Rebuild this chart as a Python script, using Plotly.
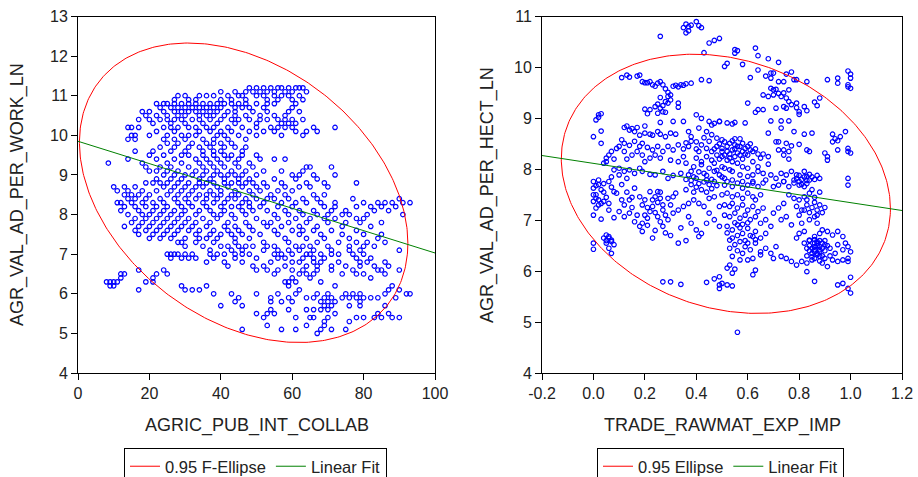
import numpy as np
import plotly.graph_objects as go

# ---------------- Left panel data (AGRIC_PUB_INT_COLLAB vs AGR_VAL_AD_PER_WORK_LN) ----------------
left_y_levels = [11.2, 11.1, 11.0, 10.9, 10.8, 10.7, 10.6, 10.5, 10.4, 10.3, 10.2, 10.1, 10.0,
                 9.9, 9.8, 9.7, 9.6, 9.5, 9.4, 9.3, 9.2, 9.1, 9.0, 8.9, 8.8, 8.7, 8.6, 8.5,
                 8.4, 8.3, 8.2, 8.1, 8.0, 7.9, 7.8, 7.7, 7.6, 7.5, 7.4, 7.3, 7.2, 7.1, 7.0,
                 6.9, 6.8, 6.7, 6.6, 6.5, 6.4, 6.3, 6.2, 6.1, 6.0, 5.9, 5.8, 5.7, 5.6, 5.5,
                 5.4, 5.3, 5.2, 5.1, 5.0]
left_x_rows = [
    [48, 50, 52, 54, 56, 57, 59, 61, 62, 63],
    [40, 44, 47, 49, 51, 53, 55, 58, 60, 64],
    [28, 30, 34, 36, 38, 42, 45, 46, 50, 52, 55, 57, 59, 62],
    [27, 31, 33, 40, 43, 47, 53, 56, 60, 63],
    [22, 24, 25, 27, 29, 31, 33, 35, 37, 39, 41, 43, 45, 47, 50, 53, 55, 61],
    [23, 26, 28, 30, 32, 34, 36, 38, 40, 44, 46, 48, 52, 60],
    [18, 20, 24, 27, 29, 31, 33, 35, 37, 39, 42, 44, 49, 53, 59, 62],
    [19, 22, 25, 28, 30, 34, 36, 38, 41, 44, 47, 51, 55, 58],
    [17, 20, 23, 25, 27, 29, 32, 34, 37, 40, 43, 45, 48, 51, 53, 56, 58, 60, 63],
    [21, 26, 30, 35, 39, 44, 50, 57, 59, 61],
    [14, 15, 17, 24, 26, 28, 31, 33, 36, 38, 42, 46, 50, 54, 56, 58, 60, 66, 72],
    [22, 27, 34, 37, 40, 43, 48, 52, 55, 61, 64, 67],
    [15, 16, 20, 25, 29, 31, 33, 39, 41, 45, 50, 57, 63],
    [14, 16, 24, 27, 30, 35, 38, 42, 47],
    [25, 28, 32, 36, 38, 40, 43],
    [23, 27, 31, 34, 37, 41, 44, 47],
    [16, 21, 26, 30, 35, 38, 40, 46],
    [20, 24, 29, 31, 35, 38, 41, 43, 46, 50],
    [14, 22, 27, 33, 36, 39, 42, 45, 51, 55, 58],
    [8.5, 18, 25, 29, 34, 37, 40, 44, 48],
    [19, 23, 26, 31, 35, 38, 41, 45, 49, 64, 65, 71],
    [20, 22, 25, 28, 33, 36, 39, 43, 47, 52, 57, 63],
    [24, 27, 30, 32, 35, 38, 40, 42, 44, 46, 50, 60, 62, 66, 72],
    [22, 26, 29, 34, 37, 41, 45, 48, 55, 61, 67],
    [19, 21, 23, 25, 28, 31, 34, 36, 38, 41, 43, 45, 47, 49, 52, 57, 64, 69, 78],
    [10, 13, 16, 24, 27, 30, 33, 35, 39, 42, 46, 50, 53, 58, 62, 65, 70],
    [11, 14, 18, 22, 26, 29, 32, 37, 40, 44, 48, 51, 56, 60],
    [13, 15, 17, 20, 25, 28, 31, 34, 36, 38, 40, 43, 45, 49, 54, 58, 66, 69],
    [14, 16, 19, 23, 27, 30, 33, 36, 39, 42, 44, 47, 50, 53, 55, 59, 63, 67, 77, 90],
    [11, 12, 15, 18, 21, 24, 28, 31, 35, 38, 41, 46, 48, 52, 57, 61, 64, 68, 72, 80, 84, 86, 88, 91, 93],
    [13, 16, 19, 22, 25, 29, 32, 36, 40, 43, 45, 48, 51, 56, 60, 69, 72, 78, 82, 85, 89],
    [12, 17, 21, 24, 27, 30, 34, 37, 41, 46, 49, 53, 58, 62, 66, 71, 75, 83, 87],
    [14, 18, 20, 23, 26, 29, 33, 38, 40, 43, 47, 55, 59, 63, 67, 70, 74, 76, 81, 91],
    [16, 19, 22, 25, 28, 31, 35, 39, 44, 50, 56, 61, 65, 69, 72, 78, 80],
    [15, 18, 21, 24, 27, 30, 33, 37, 42, 47, 52, 54, 59, 64, 70, 75, 79, 85],
    [13, 17, 20, 23, 26, 29, 32, 36, 41, 44, 48, 53, 57, 62, 67, 74, 82],
    [16, 19, 22, 25, 28, 31, 34, 38, 42, 45, 49, 55, 60, 63, 66, 71, 78],
    [17, 21, 24, 27, 33, 37, 40, 43, 46, 51, 56, 62, 68, 74, 80, 85],
    [20, 23, 26, 30, 34, 36, 39, 44, 48, 58, 64, 69, 76, 84],
    [28, 29, 33, 38, 44, 52, 59, 67, 73, 78, 81, 86],
    [30, 35, 40, 42, 45, 47, 49, 53, 55, 61, 63, 65, 70, 76, 80, 83],
    [37, 43, 46, 52, 56, 59, 62, 66, 71, 76, 79, 90],
    [25, 26, 27, 28, 30, 32, 37, 39, 41, 44, 46, 48, 55, 57, 60, 64, 65, 68, 71, 73, 77, 80],
    [26, 29, 31, 33, 38, 44, 50, 56, 58, 63, 66, 69, 78, 82],
    [36, 41, 46, 54, 60, 62, 66, 68, 73, 79, 81, 86],
    [42, 49, 52, 58, 64, 67, 71, 75, 79, 83, 87],
    [17, 24, 50, 53, 56, 60, 63, 67, 71, 77, 84, 85, 90],
    [12, 13, 22, 25, 55, 62, 64, 66, 74, 78, 80, 86],
    [12, 21, 60, 65, 82],
    [8, 9, 10, 11, 19, 21, 58, 59, 61, 68],
    [9, 10, 29, 36, 59, 72, 88],
    [17, 30, 32, 34, 62, 87, 90],
    [38, 43, 50, 56, 61, 67, 70, 75, 77, 79, 86, 92, 93],
    [45, 54, 59, 64, 66, 69, 71, 74, 76, 78, 80, 82, 84, 89],
    [44, 54, 57, 60, 68, 70, 72, 79],
    [40, 46, 69, 71, 76, 79, 86],
    [54, 59, 64, 66, 68, 70],
    [50, 53, 55, 72, 84, 87],
    [52, 61, 65, 66, 70, 78, 80, 83, 85, 88, 90],
    [69, 76],
    [53, 64, 69],
    [46, 57, 61, 68, 71, 75],
    [67],
]

# Left summary statistics (95% F-ellipse and linear fit)
left_center = (46.4, 8.55)
left_scaled_cov = [[2116.0, -58.6], [-58.6, 14.29]]
left_fit_intercept = 9.85
left_fit_slope = -0.0282

# ---------------- Right panel data (TRADE_RAWMAT_EXP_IMP vs AGR_VAL_AD_PER_HECT_LN) ----------------
right_top = [(0.35, 10.78), (0.36, 10.85), (0.37, 10.72), (0.37, 10.80), (0.38, 10.83), (0.40, 10.90),
             (0.41, 10.82), (0.42, 10.78), (0.36, 10.68), (0.26, 10.61), (0.43, 10.29), (0.45, 10.48),
             (0.47, 10.53), (0.49, 10.57), (0.55, 10.35), (0.55, 10.28), (0.56, 10.33), (0.52, 10.08),
             (0.51, 10.02), (0.58, 10.06), (0.63, 10.38), (0.64, 10.23), (0.68, 10.17), (0.72, 10.10)]
right_band_97 = [(0.11, 9.80), (0.13, 9.85), (0.14, 9.81), (0.17, 9.83), (0.18, 9.85), (0.19, 9.72),
                 (0.20, 9.70), (0.22, 9.72), (0.23, 9.66), (0.25, 9.69), (0.26, 9.72), (0.24, 9.63),
                 (0.27, 9.66), (0.28, 9.58), (0.29, 9.51), (0.29, 9.43), (0.30, 9.46), (0.31, 9.63),
                 (0.32, 9.65), (0.34, 9.66), (0.35, 9.65), (0.36, 9.68), (0.38, 9.69), (0.42, 9.76),
                 (0.45, 9.74), (0.21, 9.70), (0.33, 9.62)]
right_band_92 = [(0.26, 9.41), (0.25, 9.28), (0.24, 9.23), (0.26, 9.20), (0.27, 9.25), (0.28, 9.33),
                 (0.29, 9.30), (0.30, 9.36), (0.33, 9.30), (0.33, 9.22), (0.25, 9.10), (0.27, 9.13),
                 (0.20, 9.18), (0.22, 9.17), (0.21, 9.09), (0.28, 9.12), (0.02, 9.07), (0.03, 9.09),
                 (0.01, 8.97), (0.02, 9.02), (0.00, 8.64), (0.03, 8.75), (0.03, 8.51)]
right_band_87 = [(0.12, 8.82), (0.14, 8.77), (0.16, 8.74), (0.18, 8.67), (0.20, 8.71), (0.22, 8.69),
                 (0.23, 8.67), (0.25, 8.74), (0.26, 8.69), (0.28, 8.64), (0.30, 8.71), (0.32, 8.69),
                 (0.20, 8.85), (0.31, 8.94), (0.26, 8.92), (0.35, 8.94), (0.13, 8.85), (0.15, 8.80),
                 (0.17, 8.82)]
right_band_83 = [(0.11, 8.58), (0.12, 8.51), (0.14, 8.47), (0.16, 8.55), (0.18, 8.45), (0.19, 8.51),
                 (0.21, 8.43), (0.23, 8.38), (0.25, 8.45), (0.27, 8.35), (0.29, 8.45), (0.31, 8.38),
                 (0.33, 8.48), (0.35, 8.40), (0.36, 8.52), (0.37, 8.45), (0.38, 8.55), (0.40, 8.40),
                 (0.12, 8.35), (0.15, 8.28), (0.17, 8.35), (0.19, 8.28), (0.22, 8.22), (0.24, 8.28),
                 (0.26, 8.22), (0.30, 8.18), (0.33, 8.15), (0.35, 8.25), (0.05, 8.22), (0.05, 8.15),
                 (0.06, 8.28), (0.07, 8.35), (0.09, 8.41), (0.10, 8.45), (0.04, 8.12), (0.08, 8.20),
                 (0.13, 8.20), (0.20, 8.15)]
right_band_79 = [(0.08, 7.99), (0.10, 8.02), (0.12, 7.96), (0.14, 7.99), (0.16, 7.92), (0.19, 7.96),
                 (0.22, 7.90), (0.24, 7.89), (0.27, 7.96), (0.29, 7.82), (0.10, 7.89), (0.13, 7.82),
                 (0.00, 7.76), (0.02, 7.79), (0.06, 7.76), (0.18, 8.02), (0.31, 7.88), (0.34, 7.92),
                 (0.04, 7.72), (0.07, 7.85)]
right_mid_a = [(0.40, 9.07), (0.42, 9.00), (0.45, 8.94), (0.46, 8.87), (0.47, 8.90), (0.49, 8.94),
               (0.41, 8.81), (0.44, 8.74), (0.46, 8.68), (0.48, 8.61), (0.37, 8.74), (0.38, 8.64),
               (0.40, 8.54), (0.42, 8.48), (0.44, 8.41), (0.46, 8.35), (0.48, 8.28), (0.41, 8.35),
               (0.44, 8.25), (0.46, 8.18), (0.47, 8.12), (0.40, 8.22), (0.42, 8.09), (0.45, 8.02),
               (0.47, 7.96), (0.49, 7.89), (0.38, 7.96), (0.37, 7.89), (0.40, 7.82), (0.44, 7.79),
               (0.47, 7.76), (0.50, 7.85), (0.43, 7.92), (0.39, 8.05), (0.36, 8.12), (0.48, 8.45),
               (0.45, 8.55), (0.43, 8.62), (0.49, 8.20), (0.50, 8.05), (0.41, 7.72), (0.45, 7.70),
               (0.36, 7.80), (0.42, 8.15), (0.36, 7.60), (0.38, 7.70), (0.39, 7.55), (0.40, 7.65),
               (0.42, 7.60), (0.43, 7.75), (0.44, 7.55), (0.46, 7.62), (0.48, 7.68), (0.39, 7.85),
               (0.41, 7.95), (0.44, 7.88), (0.46, 7.80), (0.48, 7.98), (0.38, 7.78)]
right_mid_b = [(0.50, 8.58), (0.51, 8.54), (0.53, 8.51), (0.54, 8.56), (0.55, 8.48), (0.56, 8.45),
               (0.58, 8.51), (0.59, 8.41), (0.60, 8.45), (0.50, 8.41), (0.52, 8.35), (0.54, 8.38),
               (0.56, 8.32), (0.57, 8.28), (0.58, 8.35), (0.61, 8.38), (0.62, 8.35), (0.50, 8.25),
               (0.53, 8.22), (0.54, 8.15), (0.56, 8.12), (0.58, 8.05), (0.60, 8.02), (0.62, 8.15),
               (0.64, 8.05), (0.65, 8.22), (0.51, 8.02), (0.53, 7.99), (0.54, 7.96), (0.57, 7.89),
               (0.60, 7.86), (0.62, 7.89), (0.64, 7.96), (0.66, 7.92), (0.69, 7.89), (0.71, 7.82),
               (0.73, 7.92), (0.75, 7.89), (0.77, 7.96), (0.79, 7.89), (0.82, 7.96), (0.83, 7.86),
               (0.84, 7.79), (0.51, 7.82), (0.54, 7.79), (0.58, 7.76), (0.62, 7.73), (0.67, 7.79),
               (0.74, 7.76), (0.78, 7.79), (0.80, 7.76), (0.55, 8.60), (0.57, 8.60), (0.52, 8.18),
               (0.47, 8.40), (0.49, 8.50), (0.50, 8.35), (0.52, 8.45), (0.53, 8.30), (0.55, 8.40),
               (0.57, 8.45), (0.59, 8.30), (0.51, 8.28), (0.55, 8.25), (0.58, 8.20), (0.60, 8.28),
               (0.63, 8.40), (0.64, 8.30), (0.61, 8.50)]
right_upper_right = [(0.49, 8.94), (0.52, 8.91), (0.54, 8.89), (0.55, 8.92), (0.59, 8.91), (0.69, 8.95),
                     (0.73, 8.95), (0.76, 8.95), (0.73, 8.81), (0.78, 8.74), (0.82, 8.69), (0.85, 8.71),
                     (0.68, 8.71), (0.93, 8.69), (0.94, 8.60), (0.98, 8.74), (0.95, 8.56), (0.93, 8.54),
                     (0.96, 8.64), (0.99, 8.41), (0.99, 8.35), (1.00, 8.32), (0.95, 8.38), (0.90, 8.32),
                     (0.91, 8.25), (0.91, 8.18), (0.83, 8.38), (0.84, 8.35), (0.80, 8.49), (0.77, 8.46),
                     (0.75, 8.51), (0.72, 8.54), (0.71, 8.54), (0.72, 8.38), (0.74, 8.38), (0.76, 8.35),
                     (0.74, 8.28), (0.76, 8.20), (0.66, 8.30), (0.68, 8.25), (0.68, 8.10), (0.99, 7.82),
                     (0.99, 7.69)]
right_high_right = [(0.61, 9.80), (0.64, 9.95), (0.67, 9.83), (0.69, 9.89), (0.70, 9.89), (0.69, 9.79),
                    (0.72, 9.72), (0.74, 9.72), (0.75, 9.87), (0.77, 9.91), (0.78, 9.76), (0.79, 9.76),
                    (0.83, 9.72), (0.91, 9.76), (0.95, 9.79), (0.95, 9.69), (0.99, 9.93), (1.00, 9.87),
                    (1.00, 9.79), (0.99, 9.66), (1.00, 9.59), (0.99, 9.62), (0.69, 9.59), (0.70, 9.56),
                    (0.71, 9.57), (0.72, 9.49), (0.70, 9.46), (0.68, 9.43), (0.66, 9.46), (0.73, 9.43),
                    (0.75, 9.40), (0.76, 9.33), (0.77, 9.27), (0.75, 9.20), (0.74, 9.23), (0.71, 9.20),
                    (0.64, 9.17), (0.63, 9.12), (0.66, 9.17), (0.79, 9.30), (0.80, 9.13), (0.80, 9.08),
                    (0.82, 9.23), (0.83, 9.15), (0.86, 9.32), (0.87, 9.25), (0.88, 9.40), (0.60, 9.30),
                    (0.79, 9.21), (0.76, 9.56), (0.74, 9.50)]
right_low_left = [(0.00, 7.63), (0.01, 7.50), (0.01, 7.43), (0.00, 7.37), (0.01, 7.24), (0.03, 7.33),
                  (0.04, 7.37), (0.06, 7.33), (0.08, 7.56), (0.09, 7.53), (0.11, 7.40), (0.12, 7.30),
                  (0.14, 7.40), (0.16, 7.63), (0.18, 7.46), (0.19, 7.30), (0.20, 7.40), (0.10, 7.17),
                  (0.12, 7.07), (0.14, 7.14), (0.16, 6.97), (0.18, 6.88), (0.19, 6.94), (0.21, 7.04),
                  (0.03, 7.02), (0.00, 7.10), (0.05, 7.45), (0.07, 7.65), (0.02, 7.70), (0.13, 7.55),
                  (0.15, 7.25), (0.17, 7.10), (0.06, 7.20), (0.04, 7.55), (0.11, 7.70), (0.08, 7.05),
                  (0.00, 7.50), (0.01, 7.68), (0.02, 7.40), (0.03, 7.60), (0.02, 7.30), (0.15, 7.45)]
right_low_mid = [(0.22, 7.17), (0.24, 7.46), (0.25, 7.56), (0.26, 7.43), (0.27, 7.30), (0.29, 7.43),
                 (0.31, 7.46), (0.32, 7.53), (0.22, 7.56), (0.23, 7.27), (0.25, 7.07), (0.26, 6.97),
                 (0.27, 6.88), (0.29, 7.01), (0.31, 7.14), (0.33, 7.20), (0.35, 7.27), (0.37, 7.33),
                 (0.39, 7.40), (0.41, 7.33), (0.43, 7.27), (0.45, 7.14), (0.47, 7.01), (0.49, 6.88),
                 (0.37, 7.07), (0.38, 6.94), (0.40, 6.81), (0.41, 6.68), (0.42, 6.74), (0.44, 6.94),
                 (0.45, 7.43), (0.47, 7.46), (0.49, 7.27), (0.24, 6.80), (0.28, 6.75), (0.30, 6.70),
                 (0.34, 6.85), (0.36, 6.60), (0.33, 6.55), (0.21, 6.90), (0.19, 6.78), (0.23, 6.65),
                 (0.21, 7.25), (0.23, 7.40), (0.25, 7.35), (0.27, 7.20), (0.28, 7.10), (0.30, 7.30),
                 (0.24, 7.15), (0.26, 7.55), (0.20, 7.10)]
right_small_cluster = [(0.05, 6.71), (0.06, 6.65), (0.07, 6.58), (0.07, 6.61), (0.05, 6.55), (0.08, 6.52),
                       (0.06, 6.45), (0.04, 6.65), (0.07, 6.35), (0.00, 6.55), (0.00, 6.43), (0.06, 6.68),
                       (0.05, 6.60)]
right_outliers = [(0.27, 5.79), (0.30, 5.79), (0.34, 5.74), (0.44, 5.78), (0.47, 5.85), (0.49, 5.89),
                  (0.49, 5.73), (0.49, 5.66), (0.56, 4.80)]
right_low_centre = [(0.51, 7.69), (0.52, 7.76), (0.54, 7.66), (0.56, 7.73), (0.58, 7.63), (0.60, 7.69),
                    (0.62, 7.76), (0.64, 7.66), (0.66, 7.73), (0.50, 7.50), (0.52, 7.53), (0.54, 7.46),
                    (0.56, 7.50), (0.58, 7.43), (0.60, 7.53), (0.62, 7.46), (0.63, 7.40), (0.65, 7.50),
                    (0.51, 7.30), (0.53, 7.27), (0.54, 7.33), (0.56, 7.24), (0.58, 7.30), (0.60, 7.20),
                    (0.62, 7.27), (0.64, 7.17), (0.66, 7.24), (0.51, 7.10), (0.53, 7.07), (0.55, 7.14),
                    (0.57, 7.04), (0.59, 7.10), (0.61, 7.01), (0.63, 7.07), (0.65, 6.94), (0.67, 7.01),
                    (0.52, 6.88), (0.54, 6.81), (0.56, 6.91), (0.58, 6.74), (0.60, 6.84), (0.62, 6.68),
                    (0.63, 6.78), (0.65, 6.65), (0.67, 6.74), (0.69, 6.88), (0.53, 6.61), (0.55, 6.52),
                    (0.57, 6.58), (0.59, 6.48), (0.61, 6.42), (0.63, 6.55), (0.65, 6.38), (0.67, 6.45),
                    (0.54, 6.29), (0.57, 6.22), (0.60, 6.22), (0.62, 6.25), (0.65, 6.32), (0.53, 6.12),
                    (0.55, 6.04), (0.52, 6.06), (0.54, 5.96), (0.50, 5.76), (0.52, 5.73), (0.54, 5.71),
                    (0.62, 5.93), (0.63, 6.02), (0.52, 6.75), (0.54, 6.65), (0.56, 6.70), (0.57, 6.85),
                    (0.59, 6.60), (0.60, 6.95), (0.61, 6.70), (0.63, 6.62), (0.55, 6.95), (0.58, 6.92),
                    (0.53, 6.45), (0.56, 6.40), (0.58, 6.35), (0.60, 6.55)]
right_low_right = [(0.70, 7.66), (0.72, 7.69), (0.74, 7.76), (0.76, 7.66), (0.78, 7.73), (0.80, 7.69),
                   (0.82, 7.66), (0.76, 7.50), (0.78, 7.43), (0.80, 7.40), (0.82, 7.46), (0.84, 7.53),
                   (0.79, 7.27), (0.81, 7.20), (0.83, 7.30), (0.74, 7.33), (0.72, 7.24), (0.70, 7.14),
                   (0.73, 7.01), (0.75, 7.07), (0.77, 6.91), (0.81, 6.94), (0.84, 7.01), (0.86, 7.07),
                   (0.87, 6.94), (0.80, 6.74), (0.82, 6.78), (0.79, 6.65), (0.82, 6.55), (0.84, 6.61),
                   (0.86, 6.68), (0.88, 6.74), (0.89, 6.81), (0.91, 6.78), (0.93, 6.71), (0.95, 6.78),
                   (0.97, 6.68), (0.98, 6.55), (0.99, 6.48), (1.00, 6.38), (0.99, 6.25), (0.97, 6.22),
                   (0.95, 6.19), (0.94, 6.35), (0.92, 6.45), (0.90, 6.52), (0.88, 6.42), (0.87, 6.32),
                   (0.85, 6.22), (0.83, 6.16), (0.81, 6.19), (0.79, 6.12), (0.77, 6.19), (0.75, 6.25),
                   (0.73, 6.29), (0.70, 6.25), (0.69, 6.35), (0.71, 6.48), (0.86, 6.48), (0.87, 6.55),
                   (0.89, 6.16), (0.91, 6.09), (0.93, 6.22), (0.95, 6.52), (0.97, 6.42), (0.88, 6.29),
                   (0.86, 6.38), (0.83, 5.99), (0.86, 5.80), (0.95, 5.73), (0.97, 5.76), (0.99, 5.66),
                   (1.00, 5.57), (1.00, 5.88), (0.99, 6.19), (0.85, 6.45), (0.86, 6.55), (0.87, 6.50),
                   (0.88, 6.60), (0.89, 6.45), (0.87, 6.35), (0.86, 6.62), (0.88, 6.38), (0.84, 6.40),
                   (0.90, 6.60), (0.89, 6.30), (0.85, 6.28), (0.85, 7.25), (0.86, 7.35), (0.87, 7.20),
                   (0.88, 7.30), (0.89, 7.15), (0.84, 7.15), (0.86, 7.45), (0.83, 7.40), (0.88, 7.55),
                   (0.90, 7.25), (0.87, 7.10), (0.85, 7.60), (0.82, 7.20), (0.80, 7.10),
                   (0.83, 6.45), (0.84, 6.50), (0.85, 6.35), (0.86, 6.42), (0.87, 6.58), (0.88, 6.48),
                   (0.89, 6.55), (0.90, 6.40), (0.91, 6.50), (0.92, 6.30), (0.83, 6.30), (0.84, 6.60),
                   (0.86, 6.25), (0.88, 6.20), (0.90, 6.25), (0.79, 7.82), (0.80, 7.88), (0.81, 7.80),
                   (0.82, 7.85), (0.83, 7.78), (0.84, 7.90), (0.85, 7.85), (0.86, 7.80), (0.87, 7.88),
                   (0.88, 7.82), (0.81, 7.70), (0.83, 7.72)]

# Right summary statistics (95% ellipse and linear fit)
right_center = (0.515, 7.715)
right_scaled_cov = [[0.4096, -0.313], [-0.313, 6.477]]
right_fit_intercept = 8.116
right_fit_slope = -0.771

# ---------------- Tick labels ----------------
left_xticks = [0, 20, 40, 60, 80, 100]
left_yticks = [4, 5, 6, 7, 8, 9, 10, 11, 12, 13]
right_xticks = [-0.2, 0.0, 0.2, 0.4, 0.6, 0.8, 1.0, 1.2]
right_xtick_labels = ["-0.2", "0.0", "0.2", "0.4", "0.6", "0.8", "1.0", "1.2"]
right_yticks = [4, 5, 6, 7, 8, 9, 10, 11]

# ---------------- Build ----------------
left_x = [x for row in left_x_rows for x in row]
left_y = [lvl for lvl, row in zip(left_y_levels, left_x_rows) for _ in row]
right_all = (right_top + right_band_97 + right_band_92 + right_band_87 + right_band_83 + right_band_79 +
             right_mid_a + right_mid_b + right_upper_right + right_high_right + right_low_left +
             right_low_mid + right_small_cluster + right_outliers + right_low_centre + right_low_right)
right_x = [p[0] for p in right_all]
right_y = [p[1] for p in right_all]


def ellipse(center, cov, n=400):
    t = np.linspace(0, 2 * np.pi, n)
    L = np.linalg.cholesky(np.array(cov))
    pts = L @ np.vstack([np.cos(t), np.sin(t)])
    return center[0] + pts[0], center[1] + pts[1]


FONT = "Liberation Sans, Arial, sans-serif"
TXT = "#222222"
fig = go.Figure()

marker = dict(symbol="circle-open", size=4.5, color="#0000FF", line=dict(width=1.2, color="#0000FF"))

fig.add_trace(go.Scatter(x=left_x, y=left_y, mode="markers", marker=marker, showlegend=False,
                         xaxis="x", yaxis="y", hoverinfo="skip"))
ex, ey = ellipse(left_center, left_scaled_cov)
fig.add_trace(go.Scatter(x=ex, y=ey, mode="lines", line=dict(color="#FF0000", width=1),
                         name="0.95 F-Ellipse", xaxis="x", yaxis="y", legend="legend"))
lx = np.array([left_xticks[0], left_xticks[-1]], dtype=float)
fig.add_trace(go.Scatter(x=lx, y=left_fit_intercept + left_fit_slope * lx, mode="lines",
                         line=dict(color="#008000", width=1), name="Linear Fit",
                         xaxis="x", yaxis="y", legend="legend"))

fig.add_trace(go.Scatter(x=right_x, y=right_y, mode="markers", marker=marker, showlegend=False,
                         xaxis="x2", yaxis="y2", hoverinfo="skip"))
ex2, ey2 = ellipse(right_center, right_scaled_cov)
fig.add_trace(go.Scatter(x=ex2, y=ey2, mode="lines", line=dict(color="#FF0000", width=1),
                         name="0.95 Ellipse", xaxis="x2", yaxis="y2", legend="legend2"))
rx = np.array([right_xticks[0], right_xticks[-1]], dtype=float)
fig.add_trace(go.Scatter(x=rx, y=right_fit_intercept + right_fit_slope * rx, mode="lines",
                         line=dict(color="#008000", width=1), name="Linear Fit",
                         xaxis="x2", yaxis="y2", legend="legend2"))

W, H = 918, 477
def px(v): return v / W
def py(v): return 1 - v / H

axis_common = dict(showline=True, linecolor="#000000", linewidth=1, mirror=True, ticks="outside",
                   ticklen=6, tickcolor="#000000", showgrid=False, zeroline=False,
                   tickfont=dict(family=FONT, size=16, color=TXT))

legend_common = dict(orientation="h", xanchor="left", yanchor="top",
                     bordercolor="#000000", borderwidth=1, bgcolor="white",
                     font=dict(family=FONT, size=16.5, color=TXT), itemwidth=30, tracegroupgap=0)

fig.update_layout(
    width=W, height=H,
    margin=dict(l=0, r=0, t=0, b=0, autoexpand=False),
    paper_bgcolor="white", plot_bgcolor="white",
    font=dict(family=FONT, size=16, color=TXT),
    xaxis=dict(domain=[px(78), px(435)], range=[0, 100], tickvals=left_xticks, anchor="y", **axis_common),
    yaxis=dict(domain=[py(373), py(16.5)], range=[4, 13], tickvals=left_yticks, anchor="x", **axis_common),
    xaxis2=dict(domain=[px(542), px(902)], range=[-0.2, 1.2], tickvals=right_xticks,
                ticktext=right_xtick_labels, anchor="y2", **axis_common),
    yaxis2=dict(domain=[py(373), py(16.5)], range=[4, 11], tickvals=right_yticks, anchor="x2", **axis_common),
    legend=dict(x=px(124), y=py(448), **legend_common),
    legend2=dict(x=px(597), y=py(448), **legend_common),
    annotations=[
        dict(text="AGRIC_PUB_INT_COLLAB", x=px(256.5), y=py(425), xref="paper", yref="paper",
             showarrow=False, font=dict(family=FONT, size=18, color=TXT), xanchor="center", yanchor="middle"),
        dict(text="TRADE_RAWMAT_EXP_IMP", x=px(722), y=py(425), xref="paper", yref="paper",
             showarrow=False, font=dict(family=FONT, size=18, color=TXT), xanchor="center", yanchor="middle"),
        dict(text="AGR_VAL_AD_PER_WORK_LN", x=px(17), y=py(195), xref="paper", yref="paper", textangle=-90,
             showarrow=False, font=dict(family=FONT, size=18, color=TXT), xanchor="center", yanchor="middle"),
        dict(text="AGR_VAL_AD_PER_HECT_LN", x=px(487), y=py(195), xref="paper", yref="paper", textangle=-90,
             showarrow=False, font=dict(family=FONT, size=18, color=TXT), xanchor="center", yanchor="middle"),
    ],
)

fig.write_html("out.html", post_script="document.body.style.margin='0';",
               config={"displayModeBar": False})
